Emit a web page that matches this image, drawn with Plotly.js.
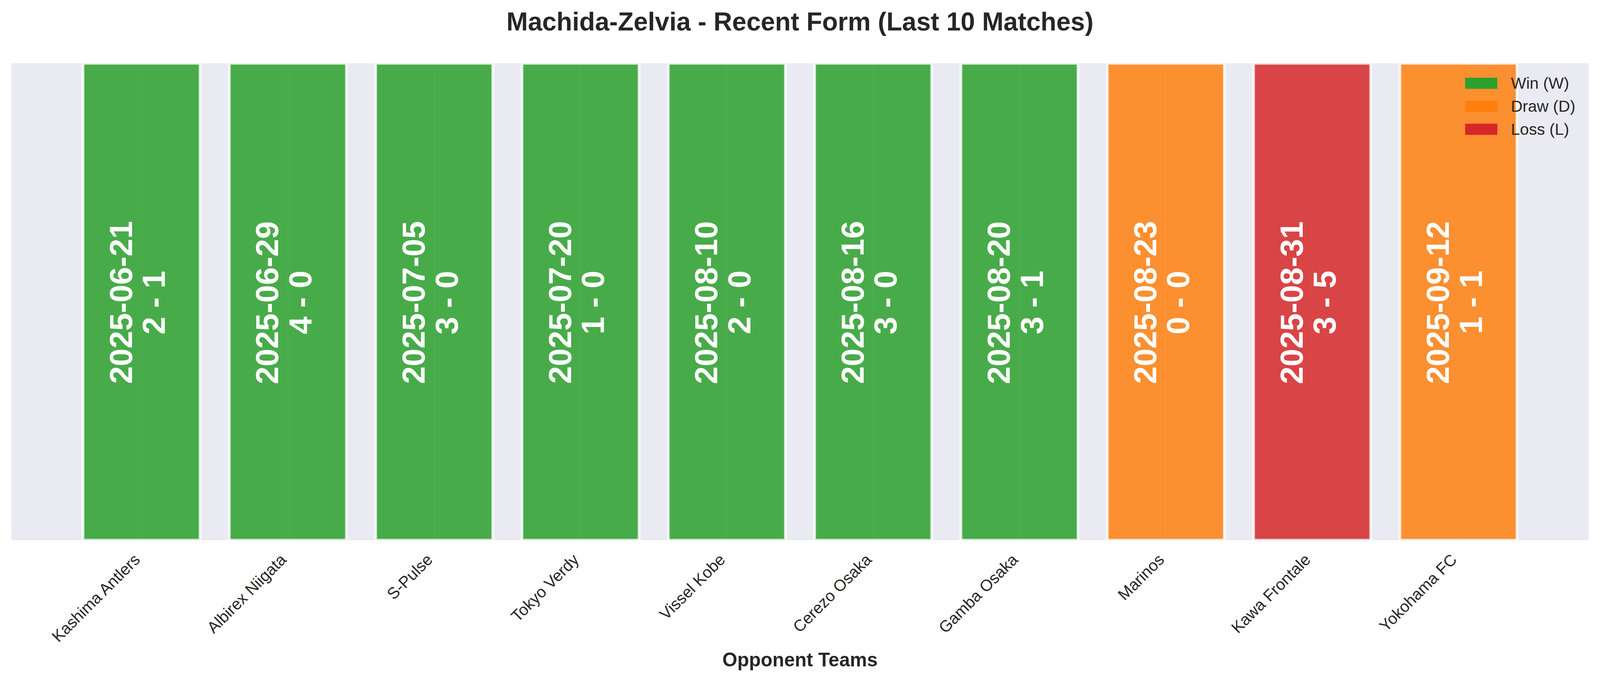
<!DOCTYPE html>
<html>
<head>
<meta charset="utf-8">
<script src="https://cdn.plot.ly/plotly-3.0.1.min.js"></script>
<style>
  html, body { margin: 0; padding: 0; background: #ffffff; overflow: hidden; }
</style>
</head>
<body>
<div id="chart"></div>
<script>
// last 10 matches, oldest first
let teams = ['Kashima Antlers', 'Albirex Niigata', 'S-Pulse', 'Tokyo Verdy', 'Vissel Kobe',
             'Cerezo Osaka', 'Gamba Osaka', 'Marinos', 'Kawa Frontale', 'Yokohama FC'];
let dates = ['2025-06-21', '2025-06-29', '2025-07-05', '2025-07-20', '2025-08-10',
             '2025-08-16', '2025-08-20', '2025-08-23', '2025-08-31', '2025-09-12'];
let scores = ['2 - 1', '4 - 0', '3 - 0', '1 - 0', '2 - 0', '3 - 0', '3 - 1', '0 - 0', '3 - 5', '1 - 1'];
let results = ['W', 'W', 'W', 'W', 'W', 'W', 'W', 'D', 'L', 'D'];
let barHeight = [1, 1, 1, 1, 1, 1, 1, 1, 1, 1];

let resultKeys = ['W', 'D', 'L'];
let resultNames = ['Win (W)', 'Draw (D)', 'Loss (L)'];
let resultColors = {W: '#2ca02c', D: '#ff7f0e', L: '#d62728'};

const FONT = '"Liberation Sans", Arial, sans-serif';
const TXT = '#262626';

// the viewport can be narrower than 4170, so size everything from a 4170 x 1769 design
let W = window.innerWidth || 4170;
let s = Math.min(W / 4170, 1);
W = 4170 * s;
let H = 1769 * s;
let px = v => v * s;

// hex -> rgba helper
let alpha = (hex, a) => {
    let n = parseInt(hex.slice(1), 16);
    return 'rgba(' + (n >> 16) + ',' + ((n >> 8) & 255) + ',' + (n & 255) + ',' + a + ')';
};

let data = [{
    type: 'bar',
    x: teams,
    y: barHeight,
    width: 0.8,
    showlegend: false,
    hoverinfo: 'skip',
    marker: {
        color: results.map(r => alpha(resultColors[r], 0.85)),
        line: {color: 'rgba(255,255,255,0.8)', width: px(7)}
    }
}];

// date + score written up the middle of each bar
let annotations = [];
teams.forEach((t, i) => {
    annotations.push({
        x: t, y: 0.5, xref: 'x', yref: 'y', text: dates[i], showarrow: false,
        textangle: -90, xshift: px(-54), yshift: px(-2),
        font: {family: FONT, size: px(83), color: '#ffffff', weight: 'bold'}
    });
    annotations.push({
        x: t, y: 0.5, xref: 'x', yref: 'y', text: scores[i], showarrow: false,
        textangle: -90, xshift: px(32), yshift: px(-2),
        font: {family: FONT, size: px(83), color: '#ffffff', weight: 'bold'}
    });
});

// hand-made legend (plotly's bar swatch is too small at this size)
let shapes = [];
let legTop = 0.958, legStep = 0.0482;
resultKeys.forEach((k, i) => {
    let yc = legTop - i * legStep;
    shapes.push({
        type: 'rect', xref: 'paper', yref: 'paper',
        x0: 0.9217, x1: 0.9421, y0: yc - 0.0117, y1: yc + 0.0117,
        fillcolor: resultColors[k], line: {width: 0}
    });
    annotations.push({
        xref: 'paper', yref: 'paper', x: 0.9501, y: yc, xanchor: 'left', yanchor: 'middle',
        text: resultNames[i], showarrow: false,
        font: {family: FONT, size: px(42), color: TXT}
    });
});

let layout = {
    width: W,
    height: H,
    margin: {l: px(30), r: px(30), t: px(165), b: px(361)},
    paper_bgcolor: '#ffffff',
    plot_bgcolor: '#EAEAF2',
    font: {family: FONT, color: TXT},
    title: {
        text: 'Machida-Zelvia - Recent Form (Last 10 Matches)',
        x: 0.5, xanchor: 'center',
        y: 1 - 56 / 1769, yref: 'container', yanchor: 'middle',
        font: {family: FONT, size: px(67), color: TXT, weight: 'bold'}
    },
    xaxis: {
        type: 'category',
        range: [-0.89, 9.89],
        tickangle: -45,
        tickmode: 'array',
        tickvals: teams,
        // two trailing nbsp nudge the rotated labels down-left like matplotlib's
        ticktext: teams.map(t => t + '\u00a0\u00a0'),
        tickfont: {family: FONT, size: px(42), color: TXT},
        ticks: '',
        showgrid: true,
        gridcolor: '#ffffff',
        gridwidth: px(4),
        zeroline: false,
        showline: false,
        title: {
            text: 'Opponent Teams',
            standoff: px(20),
            font: {family: FONT, size: px(50), color: TXT, weight: 'bold'}
        }
    },
    yaxis: {
        range: [0, 1],
        showticklabels: false,
        showgrid: false,
        zeroline: false,
        showline: false,
        ticks: ''
    },
    shapes: shapes,
    annotations: annotations,
    bargap: 0.2
};

Plotly.newPlot('chart', data, layout, {displayModeBar: false, staticPlot: true});
</script>
</body>
</html>
